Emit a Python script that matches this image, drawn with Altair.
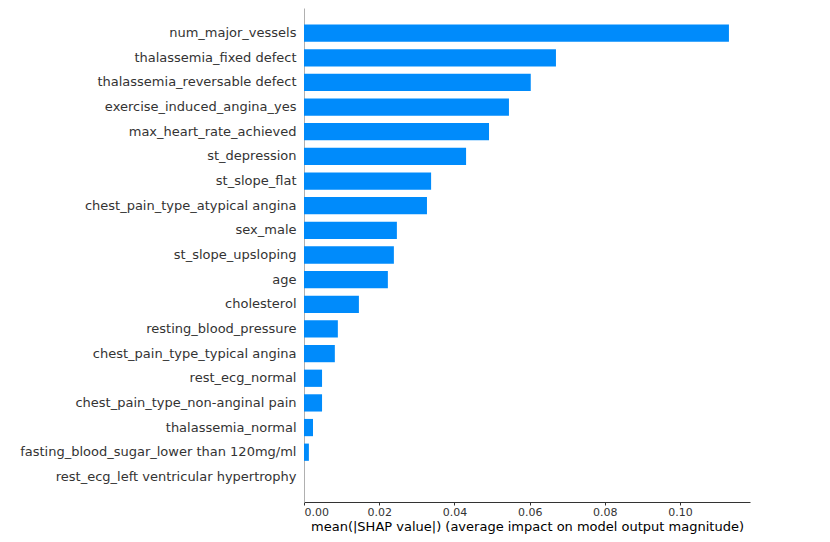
import altair as alt
import pandas as pd

features = [
    "num_major_vessels",
    "thalassemia_fixed defect",
    "thalassemia_reversable defect",
    "exercise_induced_angina_yes",
    "max_heart_rate_achieved",
    "st_depression",
    "st_slope_flat",
    "chest_pain_type_atypical angina",
    "sex_male",
    "st_slope_upsloping",
    "age",
    "cholesterol",
    "resting_blood_pressure",
    "chest_pain_type_typical angina",
    "rest_ecg_normal",
    "chest_pain_type_non-anginal pain",
    "thalassemia_normal",
    "fasting_blood_sugar_lower than 120mg/ml",
    "rest_ecg_left ventricular hypertrophy",
]
values = [
    0.1130, 0.0670, 0.0603, 0.0545, 0.0492, 0.0431, 0.0338, 0.0327,
    0.0247, 0.0239, 0.0223, 0.0146, 0.0090, 0.0082, 0.0048, 0.0048,
    0.0024, 0.0013, 0.0,
]
x_ticks = [0.0, 0.02, 0.04, 0.06, 0.08, 0.10]

df = pd.DataFrame({"feature": features, "value": values})

chart = alt.Chart(df).mark_bar(color="#008bfb").encode(
    x=alt.X(
        "value:Q",
        scale=alt.Scale(domain=[0, 0.1186], nice=False, zero=True),
        axis=alt.Axis(
            values=x_ticks,
            format=".2f",
            title="mean(|SHAP value|) (average impact on model output magnitude)",
            grid=False,
            domainColor="#333333",
            tickColor="#333333",
            tickSize=3,
            labelFont="DejaVu Sans",
            labelFontSize=11,
            labelColor="#333333",
            labelPadding=1,
            titleFont="DejaVu Sans",
            titleFontSize=13,
            titleFontWeight="normal",
            titleColor="#000000",
            titlePadding=3,
        ),
    ),
    y=alt.Y(
        "feature:N",
        sort=features,
        scale=alt.Scale(paddingInner=0.3, paddingOuter=0.67),
        axis=alt.Axis(
            title=None,
            ticks=False,
            grid=False,
            domainColor="#b0b0b0",
            labelFont="DejaVu Sans",
            labelFontSize=13,
            labelColor="#333333",
            labelPadding=8,
            labelLimit=400,
        ),
    ),
).properties(
    width=446,
    height=494,
    autosize=alt.AutoSizeParams(type="none"),
    padding={"left": 296, "top": 0, "right": 10, "bottom": 36},
).configure_view(stroke=None)

chart.save("out.html", embed_options={"renderer": "svg", "actions": False})
